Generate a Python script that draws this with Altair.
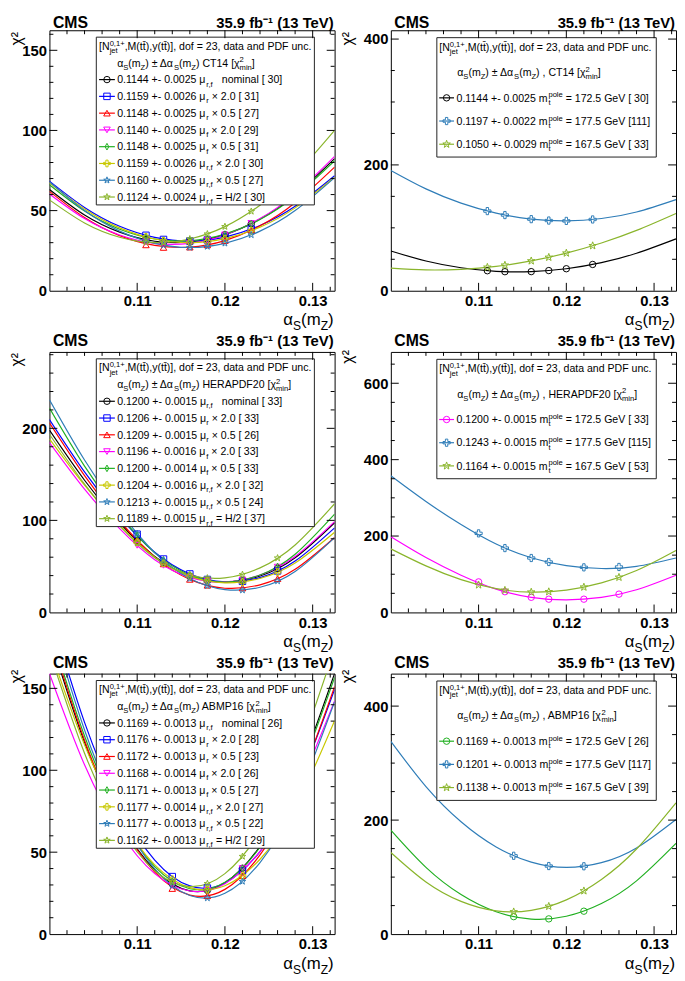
import altair as alt
import pandas as pd

# ------------------------------------------------------------------ data
XS_CURVE = [0.100, 0.104, 0.108, 0.112, 0.116, 0.120, 0.124, 0.128, 0.1325]

X_CT14 = [0.111, 0.113, 0.116, 0.118, 0.120, 0.123]
X_HERA = [0.110, 0.113, 0.116, 0.118, 0.122, 0.126]
X_ABMP = [0.114, 0.118, 0.122]

SCALE_SUB = ["r,f", "r", "r", "f", "f", "r,f", "r,f", "r,f"]
SCALE_TXT = ["   nominal", " × 2.0", " × 0.5", " × 2.0", " × 0.5", " × 2.0", " × 0.5", " = H/2"]
MT_VALUES = ["172.5", "177.5", "167.5"]

# --- CT14, scale variations
CT14_ALPHA = [0.1144, 0.1159, 0.1148, 0.1140, 0.1148, 0.1159, 0.1160, 0.1124]
CT14_ERR = [0.0025, 0.0026, 0.0025, 0.0025, 0.0025, 0.0026, 0.0025, 0.0024]
CT14_CHI2 = [30, 31, 27, 29, 31, 30, 27, 30]
CT14_POINTS = [
    [31.8, 30.3, 30.4, 32.1, 35.0, 41.8],
    [34.6, 32.0, 31.0, 31.7, 33.5, 38.5],
    [28.6, 27.0, 27.2, 28.6, 31.3, 37.8],
    [30.4, 29.2, 29.6, 31.6, 34.8, 42.0],
    [33.3, 31.5, 31.2, 32.6, 35.3, 41.8],
    [33.6, 31.2, 30.0, 30.7, 32.5, 37.5],
    [31.0, 28.4, 27.0, 27.6, 29.6, 34.8],
    [30.3, 30.1, 32.3, 35.4, 40.0, 49.5],
]
CT14_CURVE = [
    [63.2, 47.3, 36.6, 30.9, 30.4, 35.0, 44.7, 59.6, 82.4],
    [68.4, 52.0, 40.2, 33.3, 31.0, 33.5, 40.7, 52.7, 71.8],
    [62.0, 45.7, 34.4, 28.3, 27.2, 31.3, 40.5, 54.9, 77.1],
    [60.4, 45.0, 34.8, 29.6, 29.6, 34.8, 45.0, 60.4, 83.8],
    [66.1, 49.7, 38.4, 32.3, 31.2, 35.3, 44.5, 58.9, 81.1],
    [67.4, 51.0, 39.2, 32.3, 30.0, 32.5, 39.7, 51.7, 70.8],
    [68.0, 50.0, 37.2, 29.6, 27.0, 29.6, 37.2, 50.0, 70.6],
    [56.7, 42.3, 33.4, 30.0, 32.3, 40.0, 53.4, 72.3, 100.1],
]
# --- CT14, top-mass variations
CT14MT_ALPHA = [0.1144, 0.1197, 0.1050]
CT14MT_ERR = [0.0025, 0.0022, 0.0029]
CT14MT_CHI2 = [30, 111, 33]
CT14MT_POINTS = [
    [31.8, 30.3, 30.4, 32.1, 35.0, 41.8],
    [126.6, 120.3, 113.8, 111.6, 111.0, 113.3],
    [37.3, 40.6, 47.4, 53.1, 59.8, 71.5],
]
CT14MT_CURVE = [
    [63.2, 47.3, 36.6, 30.9, 30.4, 35.0, 44.7, 59.6, 82.4],
    [191.2, 161.9, 139.3, 123.3, 113.8, 111.0, 114.8, 125.2, 144.9],
    [36.0, 33.1, 34.1, 38.8, 47.4, 59.8, 75.9, 95.9, 122.9],
]
# --- HERAPDF20, scale variations
HERA_ALPHA = [0.1200, 0.1206, 0.1209, 0.1196, 0.1200, 0.1204, 0.1213, 0.1189]
HERA_ERR = [0.0015, 0.0015, 0.0015, 0.0016, 0.0014, 0.0016, 0.0015, 0.0015]
HERA_CHI2 = [33, 33, 26, 33, 33, 32, 24, 37]
HERA_POINTS = [
    [77.8, 54.2, 39.6, 34.7, 34.7, 47.9],
    [85.0, 58.0, 41.8, 35.8, 33.8, 45.1],
    [78.5, 52.7, 35.9, 29.5, 26.5, 36.7],
    [72.9, 51.2, 38.1, 34.0, 35.3, 49.2],
    [83.7, 57.1, 40.6, 34.9, 34.9, 50.0],
    [76.2, 53.6, 39.3, 34.2, 33.0, 43.8],
    [85.8, 56.4, 36.8, 29.0, 24.2, 34.1],
    [75.2, 53.3, 40.7, 37.4, 41.2, 59.1],
]
HERA_CURVE = [
    [198.0, 143.6, 97.4, 60.9, 39.6, 33.0, 39.6, 59.4, 97.5],
    [209.6, 152.7, 104.1, 65.3, 41.8, 33.2, 37.8, 55.8, 91.9],
    [205.9, 148.6, 99.6, 60.1, 35.9, 26.3, 30.0, 46.8, 81.4],
    [184.6, 134.0, 91.1, 57.3, 38.1, 33.1, 40.6, 60.8, 98.7],
    [222.0, 158.9, 106.0, 64.7, 40.6, 33.0, 40.6, 63.2, 106.8],
    [188.6, 138.2, 94.9, 60.1, 39.3, 32.1, 36.9, 53.7, 87.1],
    [231.1, 165.6, 109.7, 65.0, 36.8, 24.8, 27.3, 44.5, 81.3],
    [193.6, 139.4, 94.1, 59.4, 40.7, 37.5, 48.4, 73.3, 118.1],
]
# --- HERAPDF20, top-mass variations
HERAMT_ALPHA = [0.1200, 0.1243, 0.1164]
HERAMT_ERR = [0.0015, 0.0015, 0.0015]
HERAMT_CHI2 = [33, 115, 53]
HERAMT_POINTS = [
    [80.0, 54.2, 39.6, 34.7, 34.7, 47.9],
    [207.0, 168.5, 142.5, 132.0, 118.0, 119.0],
    [72.0, 57.9, 53.1, 54.1, 66.2, 91.9],
]
HERAMT_CURVE = [
    [198.0, 143.6, 97.4, 60.9, 39.6, 33.0, 39.6, 59.4, 97.5],
    [357.6, 290.3, 230.2, 179.2, 143.3, 122.6, 115.0, 120.6, 142.6],
    [166.4, 121.8, 85.8, 62.2, 53.1, 58.5, 77.4, 109.7, 162.3],
]
# --- ABMP16, scale variations
ABMP_ALPHA = [0.1169, 0.1176, 0.1172, 0.1168, 0.1171, 0.1177, 0.1177, 0.1162]
ABMP_ERR = [0.0013, 0.0013, 0.0013, 0.0014, 0.0013, 0.0014, 0.0013, 0.0013]
ABMP_CHI2 = [26, 28, 23, 26, 27, 27, 22, 29]
ABMP_POINTS = [
    [30.6, 26.7, 40.2],
    [35.1, 28.1, 38.6],
    [27.8, 23.4, 35.6],
    [29.7, 26.7, 40.0],
    [32.3, 27.4, 40.1],
    [33.5, 27.0, 35.7],
    [29.5, 22.0, 32.1],
    [31.7, 30.8, 47.4],
]
ABMP_CURVE = [
    [182.3, 117.0, 69.3, 39.1, 26.4, 31.3, 53.6, 93.4, 159.1],
    [197.5, 129.2, 78.4, 45.2, 29.4, 31.2, 50.4, 87.2, 149.4],
    [184.8, 118.3, 69.3, 37.8, 23.8, 27.3, 48.3, 86.8, 151.1],
    [159.1, 103.3, 62.5, 36.9, 26.3, 30.8, 50.5, 85.2, 142.3],
    [187.0, 120.9, 72.3, 41.2, 27.7, 31.6, 53.0, 92.0, 156.7],
    [174.8, 115.5, 71.4, 42.3, 28.4, 29.5, 45.7, 77.0, 130.3],
    [193.4, 124.6, 73.5, 39.8, 23.6, 24.9, 43.7, 80.0, 141.9],
    [172.5, 110.4, 65.8, 38.7, 29.0, 36.9, 62.3, 105.2, 174.4],
]
# --- ABMP16, top-mass variations
ABMPMT_ALPHA = [0.1169, 0.1201, 0.1138]
ABMPMT_ERR = [0.0013, 0.0013, 0.0013]
ABMPMT_CHI2 = [26, 117, 39]
ABMPMT_POINTS = [
    [30.6, 26.7, 40.2],
    [137.4, 119.4, 119.0],
    [39.0, 48.7, 75.8],
]
ABMPMT_CURVE = [
    [182.3, 117.0, 69.3, 39.1, 26.4, 31.3, 53.6, 93.4, 159.1],
    [338.1, 258.8, 197.1, 152.9, 126.2, 117.0, 125.3, 151.1, 201.1],
    [143.2, 91.5, 57.4, 40.8, 41.7, 60.0, 95.9, 149.3, 230.3],
]

X_LABELS = [0.11, 0.12, 0.13]
X_MINOR = [0.102, 0.104, 0.106, 0.108, 0.112, 0.114, 0.116, 0.118,
           0.122, 0.124, 0.126, 0.128, 0.132]

# ------------------------------------------------------------------ style
FONT = "Liberation Sans"
W, H = 289, 264
BLACK, BLUE, RED, MAGENTA = "#000000", "#0000ff", "#ff0000", "#ff00ff"
GREEN, YELLOW, STEEL, OLIVE = "#22b022", "#c8c800", "#2f7db8", "#8ab52c"
STAR = ("M0,-1L0.235,-0.324L0.951,-0.309L0.38,0.124L0.588,0.809L0,0.4"
        "L-0.588,0.809L-0.38,0.124L-0.951,-0.309L-0.235,-0.324Z")
DIAMOND = "M0,-1L0.55,0L0,1L-0.55,0Z"
PLUS = ("M-0.33,-1L0.33,-1L0.33,-0.33L1,-0.33L1,0.33L0.33,0.33L0.33,1L-0.33,1"
        "L-0.33,0.33L-1,0.33L-1,-0.33L-0.33,-0.33Z")
SCALE_COLORS = [BLACK, BLUE, RED, MAGENTA, GREEN, YELLOW, STEEL, OLIVE]
SCALE_SHAPES = ["circle", "square", "triangle-up", "triangle-down", DIAMOND, PLUS, STAR, STAR]
SCALE_SIZES = [42, 48, 50, 50, 50, 64, 80, 80]
MT_SHAPES = ["circle", PLUS, STAR]
MT_SIZES = [42, 64, 80]

LEG_BIG = dict(box=(47.5, 268.5, 7.0, 177.0), h1x=50.3, h2x=68.6, lx=(50.3, 66.3),
               mx=58.3, tx=68.6, centers=[16 + 17 * i for i in range(10)])
LEG_SMALL = dict(box=(46.6, 269.0, 7.5, 128.5), h1x=49.0, h2x=67.3, lx=(49.0, 64.0),
                 mx=56.5, tx=66.6, centers=[17, 42.5, 68.5, 92, 115.5])
LEG_FS = 10.7
SUB_F = 0.72

_AW = {' ': 278, '(': 333, ')': 333, '+': 584, ',': 278, '-': 333, '.': 278, '/': 278,
       '=': 584, '[': 278, ']': 278,
       'A': 667, 'B': 667, 'C': 722, 'D': 722, 'E': 667, 'F': 611, 'G': 778, 'H': 722,
       'I': 278, 'J': 500, 'K': 667, 'L': 556, 'M': 833, 'N': 722, 'O': 778, 'P': 667,
       'Q': 778, 'R': 722, 'S': 667, 'T': 611, 'U': 722, 'V': 667, 'W': 944, 'X': 667,
       'Y': 667, 'Z': 611,
       'a': 556, 'b': 556, 'c': 500, 'd': 556, 'e': 556, 'f': 278, 'g': 556, 'h': 556,
       'i': 222, 'j': 222, 'k': 500, 'l': 222, 'm': 833, 'n': 556, 'o': 556, 'p': 556,
       'q': 556, 'r': 333, 's': 500, 't': 278, 'u': 556, 'v': 500, 'w': 722, 'x': 500,
       'y': 500, 'z': 500,
       '±': 584, '×': 584, 'μ': 577, 'α': 577, 'Δ': 668, 'χ': 520, '\u0304': 0}


def tw(s, fs):
    return sum(_AW.get(c, 556) for c in s) * fs / 1000.0


def layout(segs, x, y, fs, rows=None):
    """Place rich-text pieces (normal / sub / sup / stacked sub) left to right."""
    cx, sup_x = x, x
    for txt, kind in segs:
        f = fs if kind == "n" else fs * SUB_F
        dy = {"n": 0.0, "sub": 0.3 * fs, "subs": 0.3 * fs, "sup": -0.4 * fs}[kind]
        start = sup_x if kind == "subs" else cx
        body = txt.lstrip(" ")
        px = start + tw(txt[:len(txt) - len(body)], fs)
        if rows is not None and body:
            rows.append({"px": px, "py": y + dy, "txt": body, "fs": f})
        end = px + tw(body, f)
        if kind == "sup":
            sup_x = start
        cx = max(cx, end) if kind == "subs" else end
    return cx


HEADER1 = [("[N", "n"), ("0,1+", "sup"), ("jet", "subs"),
           (",M(tt\u0304),y(tt\u0304)], dof = 23, data and PDF unc.", "n")]


def header2(pdf, comma):
    sep = ") , " if comma else ") "
    return [("α", "n"), ("S", "sub"), ("(m", "n"), ("Z", "sub"), (") ± Δα", "n"),
            ("S", "sub"), ("(m", "n"), ("Z", "sub"), (sep + pdf + " [χ", "n"),
            ("2", "sup"), ("min", "subs"), ("]", "n")]


def scale_entries(alphas, errs, chi2):
    return [[(f"{a:.4f} +- {e:.4f} μ", "n"), (s, "sub"), (t + f" [{c:3d}]", "n")]
            for a, e, c, s, t in zip(alphas, errs, chi2, SCALE_SUB, SCALE_TXT)]


def mt_entries(alphas, errs, chi2):
    return [[(f"{a:.4f} +- {e:.4f} m", "n"), ("pole", "sup"), ("t", "subs"),
             (f" = {m} GeV [{c:3d}]", "n")]
            for a, e, c, m in zip(alphas, errs, chi2, MT_VALUES)]


XTITLE = [("α", "n"), ("S", "sub"), ("(m", "n"), ("Z", "sub"), (")", "n")]


def pix(field):
    return dict(field=field, type="quantitative", scale=None, axis=None)


def panel(tag, curves, points, xpts, colors, shapes, sizes, ymax, ymaj, ystep,
          leg, head2, entries, chi_xy, cms_y, anchor=False):
    ids = [f"{tag}s{i}" for i in range(len(curves))]
    cdf = pd.DataFrame([{"a": x, "chi2": v, "sid": ids[i]}
                        for i, c in enumerate(curves) for x, v in zip(XS_CURVE, c)])
    mdf = pd.DataFrame([{"a": x, "chi2": v, "sid": ids[i]}
                        for i, p in enumerate(points) for x, v in zip(xpts, p)])
    ax_common = dict(title=None, ticks=False, domain=False, grid=False, labelFont=FONT,
                     labelFontSize=15, labelFontWeight="bold", labelColor="black",
                     labelPadding=3, labelFlush=False, labelOverlap=False)
    X = alt.X("a:Q", scale=alt.Scale(domain=[0.100, 0.1325], nice=False, zero=False),
              axis=alt.Axis(values=X_LABELS, format=".2f", **ax_common))
    Y = alt.Y("chi2:Q", scale=alt.Scale(domain=[0, ymax], nice=False, zero=False),
              axis=alt.Axis(values=ymaj, format="d", **ax_common))
    col = alt.Color("sid:N", scale=alt.Scale(domain=ids, range=colors), legend=None)
    shp = alt.Shape("sid:N", scale=alt.Scale(domain=ids, range=shapes), legend=None)
    siz = alt.Size("sid:N", scale=alt.Scale(domain=ids, range=sizes), legend=None)

    layers = []
    if anchor:
        layers.append(alt.Chart(pd.DataFrame({"k": [0]})).mark_rect(opacity=0).encode(
            x=alt.value(-40.7), x2=alt.value(0), y=alt.value(-15), y2=alt.value(0)))

    layers.append(alt.Chart(cdf).mark_line(interpolate="natural", clip=True, strokeWidth=1.2)
                  .encode(x=X, y=Y, color=col, detail="sid:N"))
    layers.append(alt.Chart(mdf).mark_point(filled=False, clip=True, strokeWidth=1, opacity=1)
                  .encode(x=X, y=Y, color=col, shape=shp, size=siz))

    # legend box
    bx0, bx1, by0, by1 = leg["box"]
    layers.append(alt.Chart(pd.DataFrame([{"x0": bx0, "x1": bx1, "y0": by0, "y1": by1}]))
                  .mark_rect(fill="white", stroke="#222222", strokeWidth=1)
                  .encode(x=alt.X(**pix("x0")), x2="x1", y=alt.Y(**pix("y0")), y2="y1"))
    cen = leg["centers"]
    nh = len(cen) - len(entries)
    ldf = pd.DataFrame([{"x0": leg["lx"][0], "x1": leg["lx"][1], "mx": leg["mx"],
                         "ly": cen[nh + i], "sid": ids[i]} for i in range(len(entries))])
    layers.append(alt.Chart(ldf).mark_rule(strokeWidth=1.2).encode(
        x=alt.X(**pix("x0")), x2="x1", y=alt.Y(**pix("ly")), color=col))
    layers.append(alt.Chart(ldf).mark_point(filled=False, strokeWidth=1, opacity=1).encode(
        x=alt.X(**pix("mx")), y=alt.Y(**pix("ly")), color=col, shape=shp, size=siz))

    # inward ticks (ROOT style) on all four sides
    xt = []
    for t in X_LABELS:
        xt += [{"a": t, "y0": H, "y1": H - 8}, {"a": t, "y0": 0, "y1": 8}]
    for t in X_MINOR:
        xt += [{"a": t, "y0": H, "y1": H - 4}, {"a": t, "y0": 0, "y1": 4}]
    layers.append(alt.Chart(pd.DataFrame(xt)).mark_rule(color="black", strokeWidth=1)
                  .encode(x=X, y=alt.Y(**pix("y0")), y2="y1"))
    yt = []
    for t in ymaj[1:]:
        yt += [{"chi2": t, "x0": 0, "x1": 8}, {"chi2": t, "x0": W, "x1": W - 8}]
    v = ystep
    while v < ymax:
        if v not in ymaj:
            yt += [{"chi2": v, "x0": 0, "x1": 4}, {"chi2": v, "x0": W, "x1": W - 4}]
        v += ystep
    layers.append(alt.Chart(pd.DataFrame(yt)).mark_rule(color="black", strokeWidth=1)
                  .encode(y=Y, x=alt.X(**pix("x0")), x2="x1"))

    # texts
    rows = []
    layout(HEADER1, leg["h1x"], cen[0] + 3.8, LEG_FS, rows)
    layout(head2, leg["h2x"], cen[1] + 3.8, LEG_FS, rows)
    for i, segs in enumerate(entries):
        layout(segs, leg["tx"], cen[nh + i] + 3.8, LEG_FS, rows)
    tot = layout(XTITLE, 0, 0, 17)
    layout(XTITLE, W - 1 - tot, H + 35, 17, rows)
    layers.append(alt.Chart(pd.DataFrame(rows)).mark_text(
        align="left", baseline="alphabetic", font=FONT, color="black").encode(
        x=alt.X(**pix("px")), y=alt.Y(**pix("py")), text="txt:N",
        size=alt.Size("fs:Q", scale=None, legend=None)))

    one = pd.DataFrame({"k": [0]})
    layers.append(alt.Chart(one).mark_text(text="CMS", align="left", baseline="alphabetic",
                                           font=FONT, fontWeight="bold", fontSize=16, color="black")
                  .encode(x=alt.value(3.5), y=alt.value(cms_y)))
    layers.append(alt.Chart(one).mark_text(text="35.9 fb⁻¹ (13 TeV)", align="right",
                                           baseline="alphabetic", font=FONT, fontWeight="bold",
                                           fontSize=15, color="black")
                  .encode(x=alt.value(W - 1), y=alt.value(cms_y)))
    layers.append(alt.Chart(one).mark_text(text="χ²", angle=270, align="center", baseline="middle",
                                           font=FONT, fontSize=16, color="black")
                  .encode(x=alt.value(chi_xy[0]), y=alt.value(chi_xy[1])))

    return alt.layer(*layers).properties(width=W, height=H)


p1 = panel("a", CT14_CURVE, CT14_POINTS, X_CT14, SCALE_COLORS, SCALE_SHAPES, SCALE_SIZES,
           162.5, [0, 50, 100, 150], 10, LEG_BIG, header2("CT14", False),
           scale_entries(CT14_ALPHA, CT14_ERR, CT14_CHI2), (-32.5, 8.5), -2, anchor=True)
p2 = panel("b", CT14MT_CURVE, CT14MT_POINTS, X_CT14, [BLACK, STEEL, OLIVE], MT_SHAPES, MT_SIZES,
           414, [0, 200, 400], 50, LEG_SMALL, header2("CT14", True),
           mt_entries(CT14MT_ALPHA, CT14MT_ERR, CT14MT_CHI2), (-43.5, 8.5), -2)
p3 = panel("c", HERA_CURVE, HERA_POINTS, X_HERA, SCALE_COLORS, SCALE_SHAPES, SCALE_SIZES,
           283, [0, 100, 200], 20, LEG_BIG, header2("HERAPDF20", False),
           scale_entries(HERA_ALPHA, HERA_ERR, HERA_CHI2), (-32.5, 8), -6)
p4 = panel("d", HERAMT_CURVE, HERAMT_POINTS, X_HERA, [MAGENTA, STEEL, OLIVE], MT_SHAPES, MT_SIZES,
           682, [0, 200, 400, 600], 50, LEG_SMALL, header2("HERAPDF20", True),
           mt_entries(HERAMT_ALPHA, HERAMT_ERR, HERAMT_CHI2), (-43.5, 5), -6)
p5 = panel("e", ABMP_CURVE, ABMP_POINTS, X_ABMP, SCALE_COLORS, SCALE_SHAPES, SCALE_SIZES,
           159, [0, 50, 100, 150], 10, LEG_BIG, header2("ABMP16", False),
           scale_entries(ABMP_ALPHA, ABMP_ERR, ABMP_CHI2), (-32.5, 3), -6)
p6 = panel("f", ABMPMT_CURVE, ABMPMT_POINTS, X_ABMP, [GREEN, STEEL, OLIVE], MT_SHAPES, MT_SIZES,
           457, [0, 200, 400], 50, LEG_SMALL, header2("ABMP16", True),
           mt_entries(ABMPMT_ALPHA, ABMPMT_ERR, ABMPMT_CHI2), (-43.5, 3), -6)

chart = (alt.concat(p1, p2, p3, p4, p5, p6, columns=2,
                    spacing={"row": 62, "column": 57}, bounds="flush")
         .resolve_scale(color="independent", shape="independent", size="independent")
         .properties(padding=0)
         .configure(font=FONT)
         .configure_view(stroke="black", strokeWidth=1))

chart.save("out.html", embed_options={"renderer": "svg", "actions": False})
